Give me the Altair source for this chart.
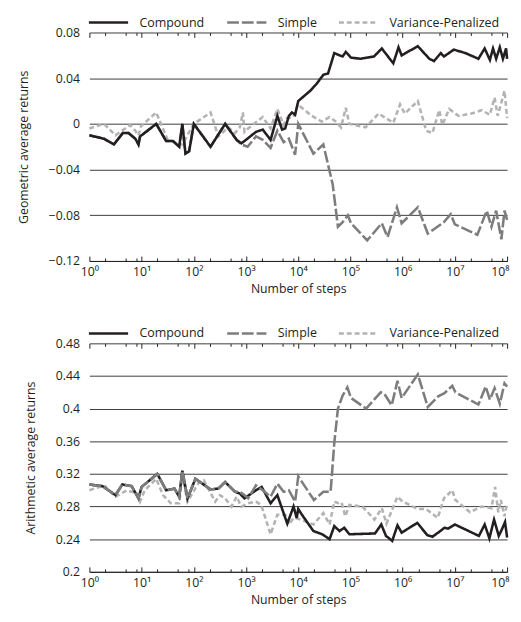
import altair as alt
import pandas as pd

NAMES = ["Compound", "Simple", "Variance-Penalized"]
COLORS = ["#231f20", "#7d7d7d", "#b3b3b3"]
DASHES = [[1, 0], [12, 3], [5, 3]]

# ---- top panel: geometric average returns (x given as log10 of number of steps)
top_compound_exp = [0.00, 0.28, 0.47, 0.64, 0.75, 0.88, 0.94, 0.97, 1.28, 1.47, 1.60, 1.72, 1.78, 1.84, 1.91,
                    2.00, 2.32, 2.60, 2.82, 2.91, 2.97, 3.19, 3.32, 3.47, 3.60, 3.69, 3.75, 3.82, 3.88, 3.94,
                    4.00, 4.23, 4.35, 4.48, 4.57, 4.69, 4.79, 4.85, 4.91, 5.01, 5.19, 5.45, 5.60, 5.82, 5.92,
                    5.98, 6.29, 6.51, 6.60, 6.73, 6.79, 6.98, 7.20, 7.45, 7.57, 7.67, 7.73, 7.79, 7.86, 7.92,
                    7.98, 8.00]
top_compound_val = [-0.010, -0.013, -0.018, -0.008, -0.008, -0.013, -0.018, -0.011, 0.000, -0.015, -0.015,
                    -0.020, 0.000, -0.026, -0.024, 0.000, -0.020, 0.000, -0.014, -0.017, -0.015, -0.007,
                    -0.005, -0.014, 0.007, -0.005, -0.004, 0.007, 0.010, 0.008, 0.020, 0.029, 0.035, 0.043,
                    0.044, 0.062, 0.060, 0.059, 0.063, 0.058, 0.057, 0.059, 0.066, 0.053, 0.067, 0.060,
                    0.068, 0.057, 0.055, 0.062, 0.059, 0.065, 0.062, 0.057, 0.066, 0.056, 0.066, 0.057,
                    0.067, 0.057, 0.066, 0.057]

top_simple_exp = [0.00, 0.28, 0.47, 0.64, 0.75, 0.88, 0.94, 0.97, 1.28, 1.47, 1.60, 1.72, 1.78, 1.84, 1.91,
                  2.00, 2.32, 2.60, 2.82, 2.91, 3.03, 3.19, 3.32, 3.47, 3.60, 3.72, 3.82, 3.94, 4.00, 4.29,
                  4.48, 4.66, 4.76, 4.85, 4.95, 5.01, 5.32, 5.60, 5.71, 5.89, 5.98, 6.29, 6.48, 6.79, 6.92,
                  7.00, 7.43, 7.61, 7.70, 7.79, 7.89, 7.95, 8.00]
top_simple_val = [-0.010, -0.013, -0.018, -0.008, -0.008, -0.013, -0.018, -0.011, 0.000, -0.015, -0.015,
                  -0.020, 0.000, -0.026, -0.024, 0.000, -0.020, 0.000, -0.014, -0.018, -0.020, -0.011,
                  -0.014, -0.021, -0.006, -0.016, -0.013, -0.027, 0.000, -0.026, -0.018, -0.053, -0.090,
                  -0.086, -0.080, -0.087, -0.102, -0.087, -0.099, -0.073, -0.087, -0.073, -0.096, -0.086,
                  -0.079, -0.088, -0.097, -0.076, -0.090, -0.076, -0.101, -0.076, -0.084]

top_vp_exp = [0.00, 0.28, 0.50, 0.78, 0.88, 0.94, 0.99, 1.28, 1.50, 1.78, 2.00, 2.32, 2.47, 2.66, 2.79, 2.88,
              2.94, 2.97, 3.04, 3.32, 3.47, 3.60, 3.72, 3.78, 3.91, 3.99, 4.26, 4.45, 4.60, 4.72, 4.82, 4.91,
              4.98, 5.29, 5.54, 5.82, 5.95, 6.04, 6.29, 6.45, 6.57, 6.70, 6.76, 6.89, 7.07, 7.32, 7.51, 7.67,
              7.76, 7.82, 7.88, 7.95, 8.00]
top_vp_val = [-0.004, 0.000, -0.010, -0.001, -0.006, -0.010, -0.002, 0.010, -0.014, -0.018, 0.000, 0.010,
              -0.011, -0.003, -0.008, -0.003, 0.010, -0.007, -0.004, 0.006, -0.004, 0.013, -0.001, 0.005,
              0.006, 0.017, 0.007, 0.002, 0.006, 0.002, -0.003, 0.014, 0.000, -0.003, 0.009, 0.001, 0.017,
              0.009, 0.020, -0.006, -0.008, 0.012, -0.001, 0.013, 0.007, 0.009, 0.012, 0.008, 0.023, 0.007,
              0.017, 0.029, 0.005]

# ---- bottom panel: arithmetic average returns
bot_simple_exp = [0.00, 0.25, 0.50, 0.63, 0.81, 0.94, 1.00, 1.30, 1.47, 1.63, 1.72, 1.78, 1.88, 2.03, 2.32,
                  2.47, 2.60, 2.79, 2.88, 2.97, 3.04, 3.19, 3.32, 3.47, 3.60, 3.72, 3.82, 3.94, 4.00, 4.30,
                  4.48, 4.62, 4.69, 4.76, 4.85, 4.94, 5.01, 5.30, 5.58, 5.65, 5.79, 5.90, 5.98, 6.29, 6.48,
                  6.68, 6.80, 6.95, 7.01, 7.45, 7.59, 7.67, 7.76, 7.86, 7.95, 8.00]
bot_simple_val = [0.307, 0.305, 0.294, 0.307, 0.305, 0.290, 0.304, 0.320, 0.300, 0.302, 0.292, 0.324, 0.290,
                  0.314, 0.301, 0.302, 0.310, 0.298, 0.298, 0.294, 0.290, 0.306, 0.300, 0.292, 0.308, 0.298,
                  0.300, 0.286, 0.317, 0.288, 0.298, 0.298, 0.358, 0.400, 0.416, 0.426, 0.413, 0.400, 0.420,
                  0.418, 0.404, 0.434, 0.413, 0.442, 0.402, 0.415, 0.419, 0.428, 0.420, 0.405, 0.427, 0.411,
                  0.425, 0.406, 0.431, 0.427]

bot_compound_exp = [0.00, 0.25, 0.50, 0.63, 0.81, 0.94, 1.00, 1.30, 1.47, 1.63, 1.72, 1.78, 1.88, 2.03, 2.32,
                    2.47, 2.60, 2.79, 2.88, 2.97, 3.19, 3.30, 3.47, 3.60, 3.79, 3.91, 3.97, 4.00, 4.07, 4.29,
                    4.46, 4.60, 4.69, 4.79, 4.88, 4.98, 5.47, 5.59, 5.68, 5.80, 5.90, 5.98, 6.28, 6.47, 6.57,
                    6.70, 6.80, 6.87, 7.00, 7.46, 7.57, 7.66, 7.75, 7.84, 7.90, 7.96, 8.00]
bot_compound_val = [0.307, 0.305, 0.294, 0.307, 0.305, 0.290, 0.304, 0.320, 0.300, 0.302, 0.292, 0.324, 0.290,
                    0.314, 0.301, 0.302, 0.310, 0.298, 0.296, 0.290, 0.300, 0.304, 0.284, 0.294, 0.259, 0.280,
                    0.266, 0.277, 0.270, 0.250, 0.246, 0.240, 0.256, 0.250, 0.254, 0.246, 0.247, 0.258, 0.244,
                    0.238, 0.257, 0.248, 0.260, 0.245, 0.243, 0.249, 0.254, 0.253, 0.258, 0.244, 0.258, 0.241,
                    0.264, 0.244, 0.252, 0.261, 0.242]

bot_vp_exp = [0.00, 0.28, 0.50, 0.72, 0.91, 0.97, 1.06, 1.28, 1.41, 1.56, 1.72, 1.78, 1.88, 2.10, 2.19, 2.41,
              2.50, 2.60, 2.72, 2.82, 2.91, 3.04, 3.19, 3.29, 3.47, 3.60, 3.75, 3.82, 3.91, 4.00, 4.29, 4.48,
              4.60, 4.69, 4.77, 4.83, 4.90, 4.98, 5.23, 5.46, 5.60, 5.69, 5.90, 6.00, 6.07, 6.28, 6.45, 6.67,
              6.79, 6.95, 7.01, 7.29, 7.51, 7.70, 7.77, 7.83, 7.88, 7.95, 8.00]
bot_vp_val = [0.300, 0.306, 0.292, 0.300, 0.296, 0.286, 0.300, 0.314, 0.294, 0.284, 0.284, 0.318, 0.286, 0.310,
              0.312, 0.286, 0.294, 0.290, 0.280, 0.292, 0.280, 0.284, 0.286, 0.282, 0.246, 0.270, 0.270, 0.258,
              0.266, 0.265, 0.258, 0.272, 0.258, 0.286, 0.284, 0.285, 0.268, 0.282, 0.280, 0.264, 0.278, 0.259,
              0.292, 0.286, 0.284, 0.277, 0.277, 0.266, 0.290, 0.300, 0.288, 0.273, 0.280, 0.278, 0.304, 0.273,
              0.288, 0.268, 0.284]

MAJOR = [1, 10, 100, 1e3, 1e4, 1e5, 1e6, 1e7, 1e8]
MINOR = [m * 10 ** k for k in range(8) for m in (2, 5, 8)]
SUP = ["\u2070", "\u00b9", "\u00b2", "\u00b3", "\u2074", "\u2075", "\u2076", "\u2077", "\u2078"]

W, H = 426, 233
FONT = "Open Sans"
INK = "#231f20"
MAJ_TICK, MIN_TICK = 5, 3
IS_MAJOR = "abs(log(datum.value)/LN10 - round(log(datum.value)/LN10)) < 0.001"
IS_LAST = "datum.value >= 99999999"
# legend key: a 40px horizontal stroke drawn from a custom path on a 14px legend row
KEY_PATH = "M-2.857,0L2.857,0"


def frame(series):
    rows = []
    for name, exps, vals in series:
        for e, v in zip(exps, vals):
            rows.append({"series": name, "steps": 10 ** e, "value": v})
    return pd.DataFrame(rows)


def panel(df, ydomain, yvalues, ytitle):
    sup_list = "[" + ",".join("'%s'" % s for s in SUP) + "]"
    legend = alt.Legend(orient="top", offset=3, direction="horizontal", title=None,
                        symbolType=KEY_PATH, symbolSize=196, symbolStrokeWidth=2.6, symbolOffset=11,
                        labelOffset=23, columnPadding=17, labelFont=FONT, labelFontSize=12.7,
                        labelColor=INK, padding=0)
    xaxis = alt.Axis(
        values=MAJOR + MINOR, ticks=False, domain=True, domainColor=INK, domainWidth=1,
        grid=True, gridColor=INK, gridWidth=1, gridOpacity=1,
        gridDash={"condition": {"test": IS_MAJOR, "value": [MAJ_TICK, H - 2 * MAJ_TICK, MAJ_TICK]},
                  "value": [MIN_TICK, H - 2 * MIN_TICK, MIN_TICK]},
        labelExpr="(" + IS_MAJOR + ") ? '10' + " + sup_list + "[round(log(datum.value)/LN10)] : ''",
        labelAlign={"condition": {"test": IS_LAST, "value": "right"}, "value": "center"},
        labelOffset={"condition": {"test": IS_LAST, "value": 2}, "value": 0},
        labelFontSize=12.5, labelPadding=5, labelOverlap=False, labelBound=False,
        title="Number of steps", titlePadding=5)
    return alt.Chart(df).mark_line(strokeWidth=2.6).encode(
        x=alt.X("steps:Q", scale=alt.Scale(type="log", domain=[1, 1e8], nice=False), axis=xaxis),
        y=alt.Y("value:Q", scale=alt.Scale(domain=ydomain, nice=False, zero=False),
                axis=alt.Axis(values=yvalues, domain=False, ticks=False, grid=True, gridColor="#3a3a3a",
                              gridWidth=1, labelExpr="format(datum.value, '~g')", labelPadding=10,
                              labelFontSize=12.5, title=ytitle, titlePadding=18)),
        color=alt.Color("series:N", scale=alt.Scale(domain=NAMES, range=COLORS), legend=legend),
        strokeDash=alt.StrokeDash("series:N", scale=alt.Scale(domain=NAMES, range=DASHES), legend=legend),
    ).properties(width=W, height=H)


top_df = frame([("Simple", top_simple_exp, top_simple_val),
                ("Variance-Penalized", top_vp_exp, top_vp_val),
                ("Compound", top_compound_exp, top_compound_val)])
bot_df = frame([("Variance-Penalized", bot_vp_exp, bot_vp_val),
                ("Compound", bot_compound_exp, bot_compound_val),
                ("Simple", bot_simple_exp, bot_simple_val)])

top = panel(top_df, [-0.12, 0.08], [-0.12, -0.08, -0.04, 0, 0.04, 0.08], "Geometric average returns")
bot = panel(bot_df, [0.2, 0.48], [0.2, 0.24, 0.28, 0.32, 0.36, 0.4, 0.44, 0.48], "Arithmetic average returns")

chart = alt.vconcat(top, bot, spacing=30).resolve_scale(
    color="independent", strokeDash="independent").resolve_legend(
    color="independent", strokeDash="independent").properties(
    padding={"left": 10, "top": 0, "right": 0, "bottom": 0}
).configure_view(stroke=None).configure_axis(
    labelFont=FONT, titleFont=FONT, labelColor=INK, titleColor=INK, titleFontSize=12.5,
    titleFontWeight="normal"
).configure_legend(labelFont=FONT)

chart.save("out.html", embed_options={"renderer": "svg", "actions": False})
